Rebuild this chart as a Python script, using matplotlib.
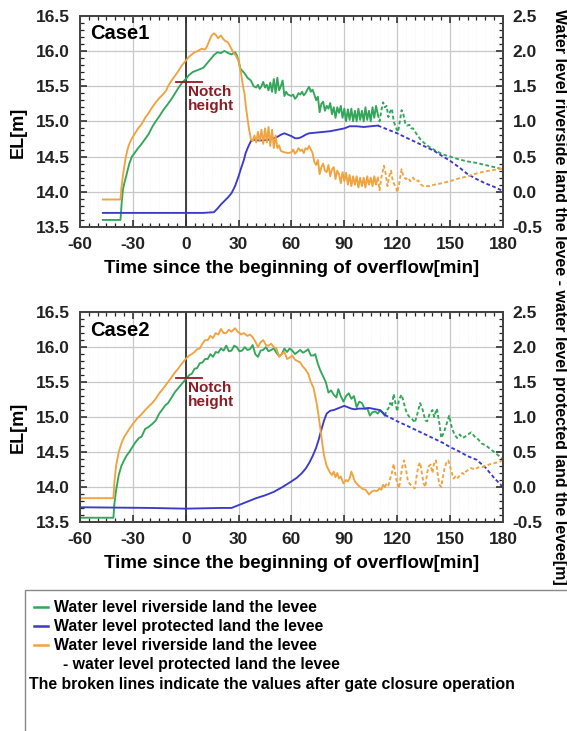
import numpy as np
import matplotlib.pyplot as plt
from matplotlib.lines import Line2D
from matplotlib.patches import Rectangle
from matplotlib.ticker import MultipleLocator

plt.rcParams['font.family'] = ['Liberation Sans', 'DejaVu Sans']
plt.rcParams['font.weight'] = 'bold'
plt.rcParams['axes.unicode_minus'] = False

GREEN = '#33a65a'
BLUE = '#3b3bc8'
ORANGE = '#f0a33f'
NOTCH = '#8c1c24'

# ---- Case1 ----
c1_gate = 109
c1_green_t = [-47, -37, -36.3, -35.5, -34, -33, -32, -30.5, -29, -27, -25, -23, -21, -19, -17, -15, -13, -11.5, -10, -8, -6, -4, -2, 0,
              2, 4, 6, 8, 10, 12, 14, 16, 18, 20, 22, 24, 26, 28, 29, 30, 31, 32, 33.5, 35, 37, 38.5, 40, 41, 42, 43, 44, 45, 46, 47,
              48, 49, 50, 51, 52, 53, 54, 55, 56, 57, 58, 60, 61, 62, 63, 64, 65, 66, 67, 68, 69, 70, 71, 72, 73, 74, 75, 76, 77, 78,
              79, 80, 81, 82, 83, 84, 85, 86, 87, 88, 89, 90, 91, 92, 93, 94, 95, 96, 97, 98, 99, 100, 101, 102, 103, 104, 105, 106,
              107, 108, 109, 110, 111, 112, 113, 114, 115, 116, 117, 118, 119.5, 120.5, 121.5, 122.5, 123.5, 124.5, 125.5, 127, 128,
              129, 131, 133, 135, 138, 142, 146, 150, 155, 160, 165, 170, 175, 180]
c1_green_v = [13.6, 13.6, 13.85, 14.05, 14.2, 14.3, 14.4, 14.5, 14.55, 14.62, 14.68, 14.75, 14.82, 14.92, 15.0, 15.07, 15.15, 15.2, 15.25,
              15.32, 15.4, 15.48, 15.55, 15.6, 15.66, 15.7, 15.72, 15.74, 15.76, 15.82, 15.88, 15.94, 15.98, 15.97, 16.0, 15.97, 15.95,
              15.98, 15.94, 15.86, 15.75, 15.72, 15.68, 15.62, 15.58, 15.5, 15.48, 15.52, 15.46, 15.5, 15.56, 15.48, 15.52, 15.44, 15.55,
              15.42, 15.6, 15.4, 15.62, 15.44, 15.5, 15.58, 15.36, 15.42, 15.38, 15.36, 15.38, 15.32, 15.35, 15.4, 15.38, 15.42, 15.37,
              15.4, 15.45, 15.49, 15.42, 15.45, 15.38, 15.3, 15.35, 15.13, 15.25, 15.28, 15.15, 15.22, 15.18, 15.26, 15.1, 15.2, 15.05,
              15.2, 15.12, 15.22, 15.05, 15.18, 15.0, 15.17, 15.02, 15.18, 15.0, 15.15, 15.0, 15.18, 15.02, 15.15, 15.0, 15.2, 15.02,
              15.15, 15.0, 15.2, 15.05, 15.22, 15.1, 15.0, 15.15, 15.27, 15.2, 15.22, 15.06, 15.14, 15.18, 15.0, 14.9, 14.85, 15.0,
              15.16, 15.1, 14.98, 14.94, 14.95, 14.9, 14.9, 14.82, 14.75, 14.7, 14.64, 14.58, 14.53, 14.5, 14.46, 14.43, 14.41, 14.38,
              14.35, 14.32]
c1_blue_t = [-47, 0, 10, 16, 18, 20, 22, 24, 26, 28, 30, 31.5, 33, 34, 35.5, 37, 38.5, 41, 44, 47, 50, 52, 54, 56, 58, 60, 62, 64, 66,
             68, 70, 74, 78, 82, 86, 90, 93, 97, 101, 105, 109, 115, 120, 125, 131, 136, 141, 146, 150, 155, 160, 165, 170, 175, 180]
c1_blue_v = [13.7, 13.7, 13.7, 13.71, 13.76, 13.82, 13.87, 13.92, 13.98, 14.08, 14.22, 14.34, 14.45, 14.55, 14.64, 14.72, 14.74, 14.73,
             14.73, 14.74, 14.76, 14.78, 14.81, 14.83, 14.81, 14.79, 14.76, 14.76, 14.78, 14.81, 14.83, 14.84, 14.85, 14.86, 14.88,
             14.9, 14.93, 14.93, 14.92, 14.93, 14.94, 14.88, 14.83, 14.77, 14.7, 14.64, 14.58, 14.5, 14.44, 14.35, 14.25, 14.18,
             14.12, 14.07, 14.01]
c1_diff_t = [-47, -37, -36.5, -35.5, -34, -33, -32, -30.5, -29, -27, -25, -23, -21, -19, -17, -15, -13, -11, -10, -8, -6, -4, -2, 0,
             2, 3.5, 5, 7, 9, 11, 12, 13.5, 14.7, 16, 17, 18.4, 20, 21, 22, 24, 25.5, 27, 28.5, 30, 31.5, 32.5, 33.4, 34.2, 35, 36,
             37, 38, 39, 40, 41, 42, 43, 44, 45, 46, 47, 48, 49, 50, 51, 52, 53, 54, 56, 58, 60, 61, 62, 63, 64, 65, 66, 67, 68, 69,
             70, 71, 72, 73, 74, 75, 76, 77, 78, 79, 80, 81, 82, 83, 84, 85, 86, 87, 88, 89, 90, 91, 92, 93, 94, 95, 96, 97, 98, 99,
             100, 101, 102, 103, 104, 105, 106, 107, 108, 109, 110, 111, 112.5, 113.5, 114.5, 115.5, 116.5, 117.5, 118.5, 119.5, 120,
             121, 122.5, 123.5, 125, 126, 127.5, 129, 130.5, 132, 133.5, 135, 138, 141, 145, 150, 155, 160, 165, 170, 175, 180]
c1_diff_v = [-0.11, -0.11, 0.05, 0.25, 0.49, 0.6, 0.68, 0.76, 0.82, 0.9, 0.96, 1.05, 1.12, 1.2, 1.27, 1.33, 1.38, 1.44, 1.5, 1.58, 1.65,
             1.72, 1.8, 1.86, 1.92, 1.95, 1.98, 2.0, 2.03, 2.02, 2.06, 2.15, 2.22, 2.25, 2.23, 2.18, 2.22, 2.18, 2.15, 2.12, 2.05,
             1.98, 1.93, 1.86, 1.67, 1.5, 1.39, 1.2, 1.05, 0.88, 0.75, 0.72, 0.8, 0.7, 0.85, 0.72, 0.88, 0.68, 0.9, 0.7, 0.92, 0.65,
             0.88, 0.62, 0.8, 0.62, 0.66, 0.58, 0.56, 0.55, 0.56, 0.6, 0.54, 0.57, 0.62, 0.58, 0.6, 0.55, 0.62, 0.6, 0.65, 0.6, 0.55,
             0.42, 0.38, 0.45, 0.25, 0.35, 0.4, 0.3, 0.28, 0.38, 0.22, 0.32, 0.35, 0.18, 0.3, 0.25, 0.12, 0.28, 0.15, 0.27, 0.1, 0.24,
             0.08, 0.22, 0.1, 0.22, 0.06, 0.2, 0.08, 0.2, 0.06, 0.22, 0.1, 0.2, 0.08, 0.22, 0.1, 0.2, 0.02, 0.2, 0.37, 0.25, 0.08,
             0.22, 0.3, 0.15, 0.1, 0.05, -0.01, 0.1, 0.32, 0.22, 0.18, 0.2, 0.15, 0.2, 0.15, 0.16, 0.1, 0.08, 0.08, 0.1, 0.12, 0.15,
             0.19, 0.22, 0.26, 0.29, 0.31, 0.33]

# ---- Case2 ----
c2_gate = 113
c2_green_t = [-60, -41, -40.5, -39.5, -38, -36.5, -35, -33.5, -32, -30, -28.5, -26.5, -25, -23, -21, -19, -17, -15, -13.5, -11.5, -10,
              -8, -6, -4, -2, 0, 2, 3.5, 5, 6.5, 8, 9.5, 11, 12.5, 14, 15.5, 17, 18.5, 20, 21.5, 23, 24.5, 26, 27.5, 29, 30.5, 32,
              33.5, 35, 36.5, 38, 39.5, 41, 42.5, 44, 45.5, 47, 48.5, 50, 51.5, 53, 54.5, 56, 57.5, 59, 60.5, 62, 63.5, 65, 66.5, 68,
              69.5, 71, 72.5, 73.5, 75, 76.5, 78, 79.5, 81, 82.5, 84, 85.5, 86.6, 88, 89.5, 91, 92.5, 94, 95.5, 97, 98.5, 100, 101.5,
              103, 104.5, 106, 107.5, 109, 110.5, 112, 113, 114, 115, 116, 117, 118, 119, 120, 121, 122.5, 124, 125.5, 127, 128.5,
              130, 131.5, 133, 134.5, 136, 137, 138.5, 140, 141, 142.5, 144, 145, 146.5, 148, 149.5, 151, 152.5, 154, 155.5, 157,
              158.5, 160, 162, 164, 166, 168, 170, 172, 174, 176, 178, 180]
c2_green_v = [13.56, 13.56, 13.75, 13.95, 14.17, 14.3, 14.38, 14.45, 14.5, 14.58, 14.64, 14.7, 14.72, 14.83, 14.86, 14.9, 14.95, 15.05,
              15.1, 15.17, 15.2, 15.28, 15.36, 15.42, 15.48, 15.54, 15.6, 15.62, 15.69, 15.7, 15.77, 15.78, 15.83, 15.83, 15.9, 15.86,
              15.93, 15.92, 15.98, 15.95, 16.02, 15.94, 15.95, 16.02, 16.0, 15.94, 15.95, 16.0, 15.96, 15.97, 16.03, 15.9, 15.86, 15.95,
              15.96, 16.0, 15.94, 15.96, 15.98, 15.92, 15.87, 15.9, 15.98, 15.93, 15.98, 15.95, 15.9, 15.93, 15.96, 15.92, 15.94, 15.97,
              15.88, 15.88, 15.9, 15.76, 15.66, 15.58, 15.5, 15.35, 15.38, 15.32, 15.28, 15.4, 15.3, 15.22, 15.3, 15.34, 15.26, 15.3,
              15.14, 15.22, 15.2, 15.12, 15.13, 15.02, 15.07, 15.08, 15.05, 15.1, 15.05, 15.02, 15.1, 15.12, 15.2, 15.15, 15.33, 15.2,
              15.08, 15.25, 15.32, 15.18, 15.05, 15.0, 14.97, 14.92, 15.05, 15.2, 15.1, 14.95, 14.94, 15.05, 15.1, 15.0, 15.12, 14.9,
              14.7, 14.78, 14.9, 15.02, 14.85, 14.75, 14.7, 14.75, 14.7, 14.72, 14.75, 14.78, 14.72, 14.68, 14.62, 14.6, 14.56, 14.52,
              14.48, 14.44, 14.4]
c2_blue_t = [-60, -20, 0, 20, 26, 30, 35, 40, 45, 50, 55, 60, 63, 66, 68, 70, 72, 74, 75.5, 77, 78.5, 80, 82, 84, 86, 88, 90, 92, 94,
             96, 98, 100, 102, 104, 106, 108, 110, 112, 113, 120, 126, 131, 136, 141, 146, 150, 155, 160, 165, 170, 175, 180]
c2_blue_v = [13.71, 13.7, 13.69, 13.7, 13.7, 13.74, 13.79, 13.84, 13.88, 13.93, 14.0, 14.08, 14.13, 14.2, 14.26, 14.34, 14.44, 14.56,
             14.68, 14.82, 14.95, 15.05, 15.09, 15.1, 15.12, 15.14, 15.16, 15.14, 15.12, 15.11, 15.12, 15.12, 15.12, 15.13, 15.12,
             15.11, 15.1, 15.06, 15.03, 14.94, 14.87, 14.81, 14.75, 14.69, 14.63, 14.57, 14.51, 14.44, 14.39, 14.28, 14.13, 14.0]
c2_diff_t = [-60, -41, -40.5, -39.5, -38, -36.5, -35, -33.5, -32, -30, -27.5, -25, -23, -21, -19, -17, -15, -13, -11.5, -10, -8, -6,
             -4, -2, 0, 2, 3.5, 5, 6.5, 8, 9.5, 11, 12.5, 14, 15.5, 17, 18.5, 20, 21.5, 23, 24.5, 26, 28, 29.5, 31.5, 33, 35, 36.5,
             38, 39.5, 41, 42.5, 44, 45.5, 47, 48.5, 50, 51.5, 53, 54.5, 56, 57.5, 59, 60.5, 62, 63.5, 65, 66.5, 68, 69.5, 71, 72.5,
             73.5, 74.5, 75.5, 76.6, 77.5, 78.5, 80, 81, 82, 83, 84, 85, 86, 87, 88, 89.5, 91, 92, 93, 94, 95, 96, 97, 98, 99, 100.5,
             102, 103, 104, 105, 106, 107, 108, 109, 110, 111, 112, 113, 114, 115, 116, 117, 118, 119, 120, 121, 122, 123, 124, 125,
             126, 127, 128, 129, 130, 131, 132, 133, 134, 135, 136, 137, 138, 139, 140, 141, 142, 143, 144, 145, 146, 147, 148, 149,
             150, 151, 152, 153, 154, 155, 156, 157, 158, 159, 160, 162, 164, 166, 168, 170, 172, 175, 178, 180]
c2_diff_v = [-0.16, -0.16, 0.05, 0.3, 0.5, 0.62, 0.71, 0.77, 0.83, 0.9, 0.98, 1.04, 1.1, 1.15, 1.2, 1.26, 1.34, 1.4, 1.45, 1.5, 1.57,
             1.64, 1.7, 1.77, 1.83, 1.88, 1.9, 1.93, 1.97, 1.98, 2.05, 2.1, 2.1, 2.16, 2.13, 2.2, 2.18, 2.26, 2.2, 2.2, 2.25, 2.22,
             2.27, 2.22, 2.18, 2.2, 2.16, 2.18, 2.14, 2.08, 2.0, 2.07, 2.1, 2.03, 2.02, 2.05, 2.0, 1.98, 1.86, 1.9, 1.93, 1.83, 1.85,
             1.88, 1.82, 1.8, 1.78, 1.72, 1.68, 1.62, 1.5, 1.42, 1.3, 1.17, 1.0, 0.8, 0.62, 0.45, 0.3, 0.25, 0.2, 0.17, 0.22, 0.14,
             0.2, 0.12, 0.15, 0.05, 0.1, 0.08, 0.12, 0.22, 0.15, 0.08, 0.05, 0.02, 0.0, -0.03, -0.04, -0.07, -0.11, -0.08, -0.06,
             -0.05, -0.06, -0.05, -0.02, -0.04, 0.03, 0.0, 0.05, 0.02, 0.12, 0.2, 0.33, 0.18, 0.05, -0.02, 0.15, 0.3, 0.38, 0.25,
             0.1, 0.05, 0.02, 0.0, -0.02, 0.15, 0.3, 0.35, 0.2, 0.05, 0.0, 0.2, 0.3, 0.32, 0.2, 0.35, 0.38, 0.18, 0.03, 0.0, 0.15,
             0.28, 0.35, 0.38, 0.3, 0.2, 0.12, 0.15, 0.12, 0.15, 0.18, 0.2, 0.18, 0.22, 0.24, 0.27, 0.25, 0.28, 0.28, 0.3, 0.32,
             0.34, 0.36, 0.38]

notch_el = 15.56
x_ticks = [-60, -30, 0, 30, 60, 90, 120, 150, 180]

legend_rows = ['Water level riverside land the levee',
               'Water level protected land the levee',
               'Water level riverside land the levee',
               '- water level protected land the levee',
               'The broken lines indicate the values after gate closure operation']


def split_plot(ax, t, v, gate, color):
    t = np.asarray(t)
    v = np.asarray(v)
    pre = t <= gate
    post = t >= gate
    ax.plot(t[pre], v[pre], color=color, lw=1.35)
    ax.plot(t[post], v[post], color=color, lw=1.35, ls=(0, (2.0, 1.3)))


def style_ticks(a):
    a.tick_params(which='major', length=5, width=1.1, pad=7)
    a.tick_params(which='minor', length=3, width=0.9)
    for s in a.spines.values():
        s.set_color('#444444')
        s.set_linewidth(1.4)


def panel(rect, name, gate, gt, gv, bt, bv, dt, dv):
    ax = fig.add_axes(rect)
    ax.set_xlim(-60, 180)
    ax.set_ylim(13.5, 16.5)
    ax.xaxis.set_major_locator(MultipleLocator(30))
    ax.xaxis.set_minor_locator(MultipleLocator(5))
    ax.yaxis.set_major_locator(MultipleLocator(0.5))
    ax.yaxis.set_minor_locator(MultipleLocator(0.1))
    ax.grid(which='major', color='#c8c8c8', lw=0.9)
    ax.grid(which='minor', axis='x', color='#eeeeee', lw=0.5, ls=':')
    ax.set_axisbelow(True)
    ax.tick_params(which='both', direction='in', top=True, right=False, labelsize=12.5, colors='#222222')
    ax.yaxis.set_major_formatter(plt.FormatStrFormatter('%.1f'))
    style_ticks(ax)

    ax.axvline(0, color='#333333', lw=1.3)
    split_plot(ax, gt, gv, gate, GREEN)
    split_plot(ax, bt, bv, gate, BLUE)
    ax.plot([-5.5, 9.5], [notch_el, notch_el], color=NOTCH, lw=1.3)
    ax.text(1.5, notch_el - 0.04, 'Notch\nheight', color=NOTCH, fontsize=11, fontweight='bold',
            va='top', ha='left', linespacing=1.0)
    ax.text(0.025, 0.96, name, transform=ax.transAxes, fontsize=14.5, fontweight='bold', va='top', ha='left')

    ax.set_xticks(x_ticks)
    ax.set_xlabel('Time since the beginning of overflow[min]', fontsize=13.5, fontweight='bold', labelpad=6)
    ax.set_ylabel('EL[m]', fontsize=13, fontweight='bold')
    ax.yaxis.set_label_coords(-0.125, 0.45)

    ax2 = ax.twinx()
    ax2.set_ylim(-0.5, 2.5)
    ax2.yaxis.set_major_locator(MultipleLocator(0.5))
    ax2.yaxis.set_minor_locator(MultipleLocator(0.1))
    ax2.yaxis.set_major_formatter(plt.FormatStrFormatter('%.1f'))
    ax2.tick_params(which='both', direction='in', labelsize=12.5, colors='#222222')
    style_ticks(ax2)
    split_plot(ax2, dt, dv, gate, ORANGE)
    for lab in ax.get_xticklabels() + ax.get_yticklabels() + ax2.get_yticklabels():
        lab.set_fontweight('bold')
    return ax


fig = plt.figure(figsize=(5.67, 7.31), dpi=100)

panel([0.141, 0.6895, 0.746, 0.289], 'Case1', c1_gate, c1_green_t, c1_green_v, c1_blue_t, c1_blue_v, c1_diff_t, c1_diff_v)
panel([0.141, 0.286, 0.746, 0.287], 'Case2', c2_gate, c2_green_t, c2_green_v, c2_blue_t, c2_blue_v, c2_diff_t, c2_diff_v)

fig.text(0.987, 0.594, 'Water level riverside land the levee - water level protected land the levee[m]',
         rotation=270, ha='center', va='center', fontsize=11.5, fontweight='bold')

# legend box
fig.patches.append(Rectangle((0.044, -0.01), 0.97, 0.203, transform=fig.transFigure,
                             facecolor='white', edgecolor='#888888', lw=1.0))
row_y = [607, 626, 645, 664, 684]
row_colors = [GREEN, BLUE, ORANGE, None, None]
row_x = [54, 54, 54, 63, 29]
for txt, yy, col, xx in zip(legend_rows, row_y, row_colors, row_x):
    fy = 1 - yy / 731
    if col is not None:
        fig.lines.append(Line2D([34 / 567, 48 / 567], [fy, fy], color=col, lw=1.8, transform=fig.transFigure))
    fig.text(xx / 567, fy, txt, fontsize=11.4, fontweight='bold', va='center', ha='left')

fig.savefig('out.png', dpi=100)
